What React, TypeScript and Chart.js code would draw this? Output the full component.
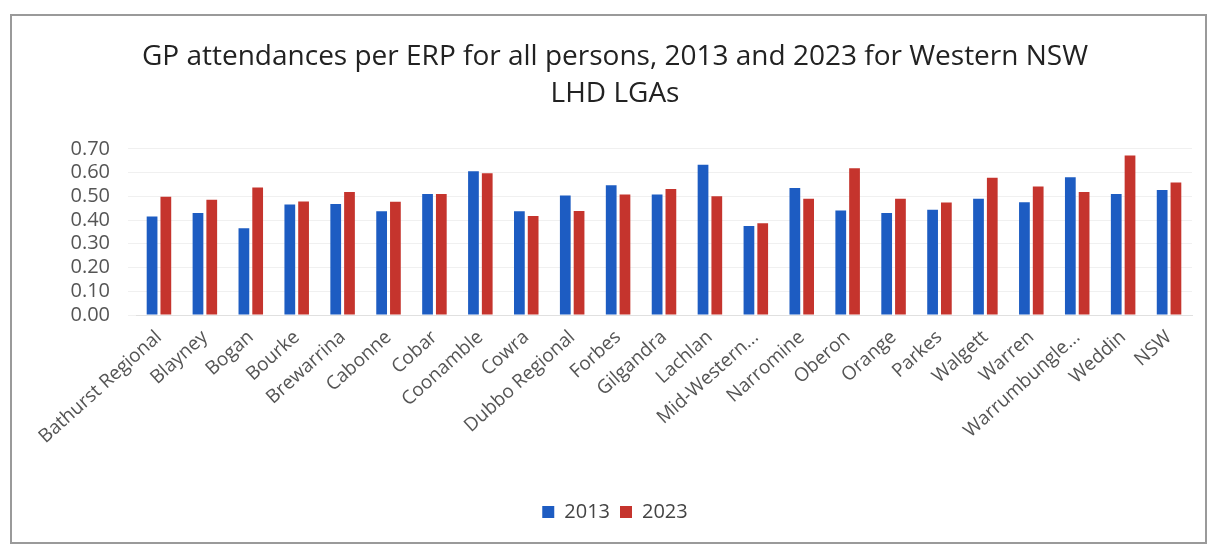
import React, { useEffect, useRef } from "react";
import { Chart, registerables } from "chart.js";

Chart.register(...registerables);

const categories = [
  "Bathurst Regional", "Blayney", "Bogan", "Bourke", "Brewarrina", "Cabonne", "Cobar",
  "Coonamble", "Cowra", "Dubbo Regional", "Forbes", "Gilgandra", "Lachlan", "Mid-Western...",
  "Narromine", "Oberon", "Orange", "Parkes", "Walgett", "Warren", "Warrumbungle...", "Weddin", "NSW",
];
const values2013 = [
  0.415, 0.43, 0.365, 0.465, 0.467, 0.437, 0.51,
  0.605, 0.437, 0.503, 0.546, 0.508, 0.633, 0.375,
  0.535, 0.44, 0.43, 0.443, 0.49, 0.475, 0.58, 0.51, 0.527,
];
const values2023 = [
  0.498, 0.485, 0.537, 0.478, 0.518, 0.477, 0.51,
  0.597, 0.417, 0.438, 0.507, 0.531, 0.5, 0.386,
  0.49, 0.618, 0.49, 0.474, 0.578, 0.541, 0.518, 0.672, 0.558,
];
const seriesNames = ["2013", "2023"];
const titleLines = [
  "GP attendances per ERP for all persons, 2013 and 2023 for Western NSW",
  "LHD LGAs",
];

export default function App() {
  const ref = useRef<HTMLCanvasElement | null>(null);
  useEffect(() => {
    if (!ref.current) return;
    const chart = new Chart(ref.current, {
      type: "bar",
      data: {
        labels: categories,
        datasets: [
          {
            label: seriesNames[0],
            data: values2013,
            backgroundColor: "#1d5cc2",
            barPercentage: 0.78,
            categoryPercentage: 0.6,
          },
          {
            label: seriesNames[1],
            data: values2023,
            backgroundColor: "#c5342d",
            barPercentage: 0.78,
            categoryPercentage: 0.6,
          },
        ],
      },
      options: {
        animation: false,
        responsive: false,
        maintainAspectRatio: false,
        layout: { padding: { left: 26, right: 13, top: 0, bottom: 10 } },
        plugins: {
          title: {
            display: true,
            text: titleLines,
            color: "#222",
            font: { family: "'Open Sans'", size: 28, weight: "normal", lineHeight: 1.3 },
            padding: { top: 23, bottom: 37 },
          },
          legend: {
            position: "bottom",
            labels: {
              color: "#444",
              boxWidth: 12,
              boxHeight: 12,
              padding: 10,
              font: { family: "'Open Sans'", size: 20 },
            },
          },
          tooltip: { enabled: false },
        },
        scales: {
          x: {
            grid: { display: false },
            border: { display: true, color: "#e0e0e0" },
            afterFit: (scale: any) => {
              scale.height = 177;
            },
            ticks: {
              color: "#555",
              maxRotation: 42,
              minRotation: 42,
              autoSkip: false,
              font: { family: "'Open Sans'", size: 19 },
            },
          },
          y: {
            min: 0,
            max: 0.7,
            grid: { color: "#f0f0f0" },
            border: { display: false },
            afterFit: (scale: any) => {
              scale.width = 98;
            },
            ticks: {
              stepSize: 0.1,
              autoSkip: false,
              color: "#555",
              padding: 18,
              font: { family: "'Open Sans'", size: 20 },
              callback: (v: any) => Number(v).toFixed(2),
            },
          },
        },
      },
    });
    return () => chart.destroy();
  }, []);
  return (
    <div
      style={{
        position: "absolute",
        left: 10,
        top: 14,
        width: 1193,
        height: 526,
        border: "2px solid #9a9a9a",
        background: "#fff",
      }}
    >
      <canvas ref={ref} width={1193} height={526} />
    </div>
  );
}
